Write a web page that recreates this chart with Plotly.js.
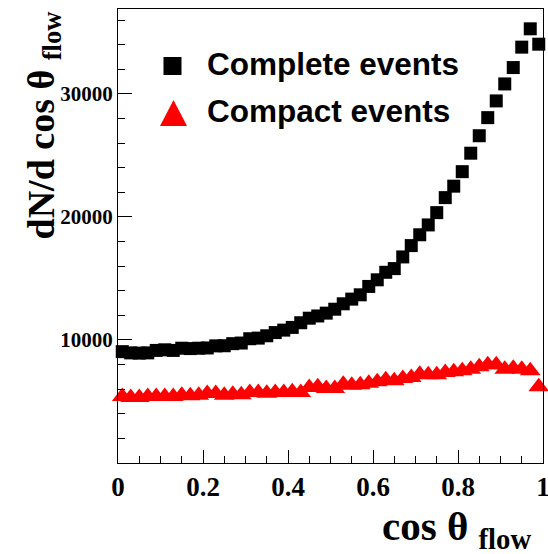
<!DOCTYPE html>
<html><head><meta charset="utf-8">
<script src="https://cdn.plot.ly/plotly-3.0.1.min.js"></script>
<style>html,body{margin:0;padding:0;background:#fff}</style>
</head><body><div id="chart" style="width:548px;height:554px"></div>
<script>
const cosThetaFlow = [0.01,0.03,0.05,0.07,0.09,0.11,0.13,0.15,0.17,0.19,
  0.21,0.23,0.25,0.27,0.29,0.31,0.33,0.35,0.37,0.39,
  0.41,0.43,0.45,0.47,0.49,0.51,0.53,0.55,0.57,0.59,
  0.61,0.63,0.65,0.67,0.69,0.71,0.73,0.75,0.77,0.79,
  0.81,0.83,0.85,0.87,0.89,0.91,0.93,0.95,0.97,0.99];
const completeEvents = [9050,8950,8930,8950,9150,9200,9150,9330,9300,9330,
  9350,9520,9530,9700,9750,10100,10150,10340,10600,10800,
  11020,11400,11770,11950,12180,12500,12940,13320,13670,14350,
  14890,15500,15800,16750,17670,18550,19350,20350,21570,22500,
  23680,25180,26600,28070,29430,30810,32140,33800,35290,34040];
const compactEvents = [5406,5325,5325,5406,5406,5406,5406,5512,5463,5512,
  5650,5650,5512,5593,5545,5732,5732,5675,5732,5732,
  5789,5732,6138,6195,6057,6057,6406,6325,6358,6488,
  6602,6764,6683,6870,6951,7219,7171,7171,7358,7415,
  7496,7626,7821,7984,7984,7626,7707,7626,7496,6195];
const seriesNames = ["Complete events", "Compact events"];
const xTickVals = [0, 0.2, 0.4, 0.6, 0.8, 1];
const xTickText = ["0", "0.2", "0.4", "0.6", "0.8", "1"];
const yTickVals = [10000, 20000, 30000];
const yTickText = ["10000", "20000", "30000"];

const serif = "Liberation Serif, Times New Roman, serif";
const sans = "Liberation Sans, Arial, sans-serif";

const traces = [
  {x: cosThetaFlow, y: completeEvents, type: "scatter", mode: "markers", name: seriesNames[0],
   marker: {symbol: "square", size: 13, color: "#000000"}, showlegend: false, cliponaxis: false},
  {x: cosThetaFlow, y: compactEvents, type: "scatter", mode: "markers", name: seriesNames[1],
   marker: {symbol: "triangle-up", size: 18, color: "#ff0000"}, showlegend: false, cliponaxis: false}
];

const axisCommon = {
  showgrid: false, zeroline: false, showline: true, mirror: true,
  linecolor: "#000", linewidth: 1, ticks: "inside", tickcolor: "#000", tickwidth: 1
};

const layout = {
  width: 548, height: 554,
  margin: {l: 118, r: 5, t: 9, b: 91},
  paper_bgcolor: "#fff", plot_bgcolor: "#fff",
  showlegend: false,
  xaxis: Object.assign({}, axisCommon, {
    range: [0, 1], tickmode: "array", tickvals: xTickVals, ticktext: xTickText,
    ticklen: 13, ticklabeloverflow: "allow",
    tickfont: {family: serif, size: 27, color: "#000", weight: "bold"},
    minor: {tickmode: "linear", tick0: 0, dtick: 0.05, ticks: "inside", ticklen: 7, tickcolor: "#000", tickwidth: 1}
  }),
  yaxis: Object.assign({}, axisCommon, {
    range: [0, 36900], tickmode: "array", tickvals: yTickVals, ticktext: yTickText,
    ticklen: 14,
    tickfont: {family: serif, size: 21, color: "#000", weight: "bold"},
    minor: {tickmode: "linear", tick0: 0, dtick: 2000, ticks: "inside", ticklen: 7, tickcolor: "#000", tickwidth: 1}
  }),
  shapes: [
    {type: "rect", xref: "paper", yref: "paper", x0: 0.107, x1: 0.1494, y0: 0.8546, y1: 0.8943,
     fillcolor: "#000", line: {width: 0}},
    {type: "path", xref: "paper", yref: "paper", path: "M 0.0988,0.7423 L 0.1624,0.7423 L 0.1306,0.7996 Z",
     fillcolor: "#ff0000", line: {width: 0}}
  ],
  annotations: [
    {text: seriesNames[0], xref: "paper", yref: "paper", x: (205 - 118) / 425, y: (463 - 64) / 454,
     xanchor: "left", yanchor: "middle", showarrow: false,
     font: {family: sans, size: 31.5, color: "#000", weight: "bold"}},
    {text: seriesNames[1], xref: "paper", yref: "paper", x: (205 - 118) / 425, y: (463 - 111) / 454,
     xanchor: "left", yanchor: "middle", showarrow: false,
     font: {family: sans, size: 31.5, color: "#000", weight: "bold"}},
    {text: "cos θ <sub>flow</sub>", xref: "paper", yref: "paper", x: (533 - 118) / 425, y: (463 - 557) / 454,
     xanchor: "right", yanchor: "bottom", showarrow: false,
     font: {family: serif, size: 41, color: "#000", weight: "bold"}},
    {text: "dN/d cos θ <sub>flow</sub>", xref: "paper", yref: "paper", x: (17 - 118) / 425, y: 1.0,
     xanchor: "left", yanchor: "top", textangle: -90, showarrow: false,
     font: {family: serif, size: 38, color: "#000", weight: "bold"}}
  ]
};

Plotly.newPlot("chart", traces, layout, {staticPlot: true, displayModeBar: false});
</script></body></html>
